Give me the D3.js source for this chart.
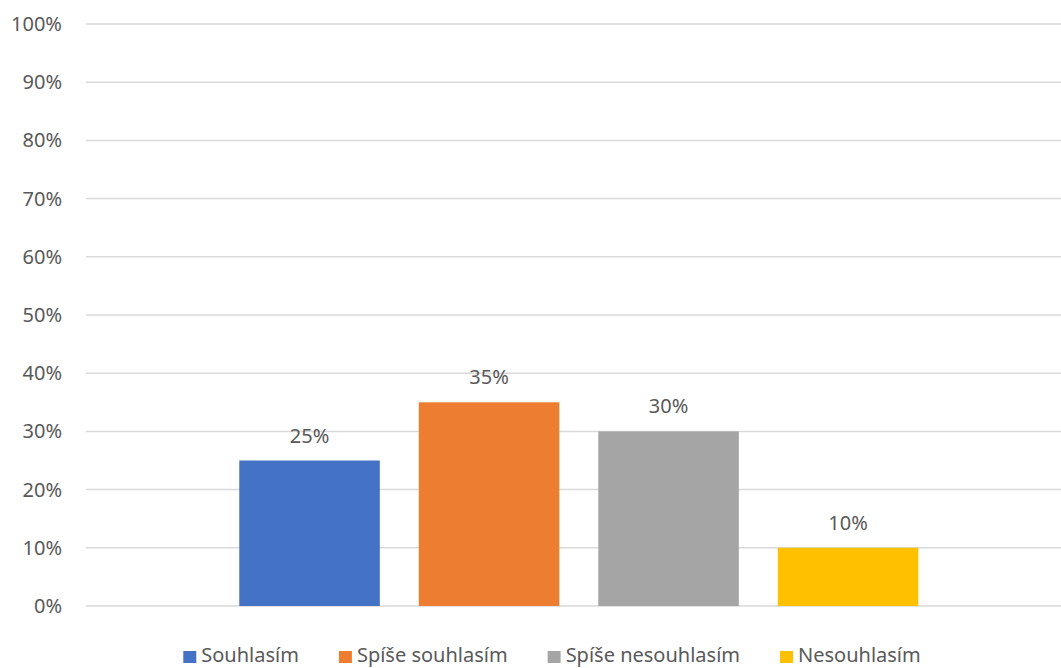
<!DOCTYPE html>
<html>
<head>
<meta charset="utf-8">
<script src="https://cdn.jsdelivr.net/npm/d3@7"></script>
<style>
  body { margin: 0; background: #fff; }
  text { font-family: "Noto Sans", "Open Sans", sans-serif; fill: #595959; }
</style>
</head>
<body>
<svg width="1061" height="668"></svg>
<script>
// answer categories and their shares
const series = ["Souhlasím", "Spíše souhlasím", "Spíše nesouhlasím", "Nesouhlasím"];
const values = [0.25, 0.35, 0.30, 0.10];
const colors = ["#4472C4", "#ED7D31", "#A5A5A5", "#FFC000"];
const yTicks = [0, 0.1, 0.2, 0.3, 0.4, 0.5, 0.6, 0.7, 0.8, 0.9, 1.0];

const svg = d3.select("svg");
const plotLeft = 86, plotRight = 1071, plotTop = 24, plotBottom = 606;

const y = d3.scaleLinear().domain([0, 1]).range([plotBottom, plotTop]);
const x = d3.scaleBand()
  .domain(series)
  .range([219.8, 937.8])
  .paddingInner(0.217)
  .paddingOuter(0.1085);

const fmt = d3.format(".0%");

// gridlines
svg.append("g")
  .selectAll("line")
  .data(yTicks)
  .enter().append("line")
  .attr("x1", plotLeft)
  .attr("x2", plotRight)
  .attr("y1", d => y(d))
  .attr("y2", d => y(d))
  .attr("stroke", "#d9d9d9")
  .attr("stroke-width", 1.5);

// y axis labels
svg.append("g")
  .selectAll("text")
  .data(yTicks)
  .enter().append("text")
  .attr("x", 62)
  .attr("y", d => y(d) + 7)
  .attr("text-anchor", "end")
  .style("font-size", "20px")
  .text(d => fmt(d));

// bars
svg.append("g")
  .selectAll("rect")
  .data(series)
  .enter().append("rect")
  .attr("x", d => x(d))
  .attr("width", x.bandwidth())
  .attr("y", (d, i) => y(values[i]))
  .attr("height", (d, i) => y(0) - y(values[i]))
  .attr("fill", (d, i) => colors[i]);

// value labels
svg.append("g")
  .selectAll("text")
  .data(series)
  .enter().append("text")
  .attr("x", d => x(d) + x.bandwidth() / 2)
  .attr("y", (d, i) => y(values[i]) - 18)
  .attr("text-anchor", "middle")
  .style("font-size", "20px")
  .text((d, i) => fmt(values[i]));

// legend
let legend = svg.append("g");
let items = legend.selectAll("g")
  .data(series)
  .enter().append("g");
items.append("rect")
  .attr("width", 13)
  .attr("height", 12)
  .attr("y", 651)
  .attr("fill", (d, i) => colors[i]);
items.append("text")
  .attr("x", 18)
  .attr("y", 662)
  .style("font-size", "20px")
  .text(d => d);

let widths = [];
items.selectAll("text").each(function () { widths.push(this.getComputedTextLength()); });
let gap = 40;
let total = d3.sum(widths) + widths.length * 18 + gap * (widths.length - 1);
let cx = 552 - total / 2;
items.attr("transform", (d, i) => {
  let t = `translate(${cx},0)`;
  cx += 18 + widths[i] + gap;
  return t;
});
</script>
</body>
</html>
